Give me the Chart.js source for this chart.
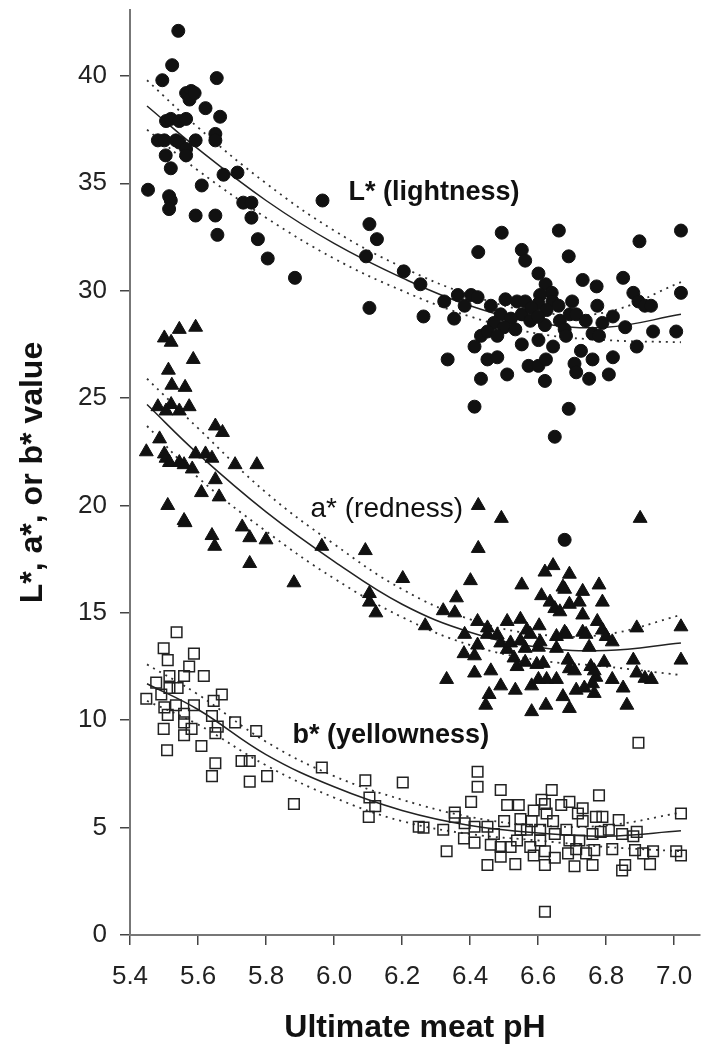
<!DOCTYPE html>
<html lang="en">
<head>
<meta charset="utf-8">
<title>Meat colour against ultimate pH</title>
<script src="https://cdn.jsdelivr.net/npm/chart.js@4.4.1/dist/chart.umd.min.js"></script>
<style>
  html, body { margin: 0; padding: 0; background: #fff; }
  #wrap { width: 709px; height: 1047px; }
</style>
</head>
<body>
<div id="wrap"><canvas id="chart" width="709" height="1047"></canvas></div>
<script>
"use strict";

const LIGHTNESS = [
  [5.542, 42.1], [5.524, 40.5], [5.495, 39.8], [5.655, 39.9], [5.565, 39.2], [5.58, 39.3],
  [5.575, 38.9], [5.59, 39.2], [5.622, 38.5], [5.665, 38.1], [5.506, 37.9], [5.52, 38.0],
  [5.545, 37.9], [5.565, 38.0], [5.482, 37.0], [5.501, 37.0], [5.535, 37.0], [5.593, 37.0],
  [5.651, 37.3], [5.651, 37.0], [5.545, 36.9], [5.565, 36.6], [5.565, 36.3], [5.505, 36.3],
  [5.52, 35.7], [5.675, 35.4], [5.716, 35.5], [5.453, 34.7], [5.515, 34.4], [5.52, 34.2],
  [5.515, 33.8], [5.611, 34.9], [5.733, 34.1], [5.757, 34.1], [5.757, 33.4], [5.593, 33.5],
  [5.651, 33.5], [5.657, 32.6], [5.776, 32.4], [5.805, 31.5], [5.885, 30.6], [5.966, 34.2],
  [6.104, 33.1], [6.126, 32.4], [6.094, 31.6], [6.205, 30.9], [6.104, 29.2],
  [6.254, 30.3], [6.263, 28.8], [6.324, 29.5], [6.353, 28.7], [6.364, 29.8], [6.403, 29.8],
  [6.422, 29.7], [6.384, 29.3], [6.424, 31.8], [6.493, 32.7], [6.461, 29.3], [6.49, 28.9],
  [6.504, 29.6], [6.538, 29.5], [6.562, 29.5], [6.552, 28.9], [6.577, 28.6], [6.552, 31.9],
  [6.562, 31.4], [6.601, 30.8], [6.622, 30.3], [6.64, 29.9], [6.606, 29.8], [6.642, 29.5],
  [6.601, 29.4], [6.625, 29.1], [6.661, 32.8], [6.69, 31.6], [6.664, 28.6], [6.693, 28.9],
  [6.712, 28.9], [6.678, 28.2], [6.731, 30.5], [6.772, 30.2], [6.774, 29.3], [6.76, 28.0],
  [6.789, 28.5], [6.82, 28.8], [6.85, 30.6], [6.88, 29.9], [6.895, 29.5], [6.914, 29.3],
  [6.932, 29.3], [6.898, 32.3], [6.856, 28.3], [6.938, 28.1], [7.006, 28.1], [7.02, 29.9],
  [7.02, 32.8], [6.47, 28.5], [6.52, 28.7], [6.58, 29.2], [6.62, 28.4], [6.66, 29.3],
  [6.7, 29.5], [6.74, 28.6], [6.5, 28.3], [6.6, 28.8],
  [6.413, 27.4], [6.432, 27.9], [6.451, 28.1], [6.48, 27.9], [6.451, 26.8], [6.48, 26.9],
  [6.334, 26.8], [6.432, 25.9], [6.413, 24.6], [6.509, 26.1], [6.533, 28.2], [6.552, 27.5],
  [6.572, 26.5], [6.601, 26.5], [6.623, 26.8], [6.601, 27.7], [6.62, 25.8], [6.644, 27.4],
  [6.649, 23.2], [6.682, 27.9], [6.69, 24.5], [6.707, 26.6], [6.712, 26.2], [6.726, 27.2],
  [6.75, 25.9], [6.779, 27.9], [6.76, 26.8], [6.808, 26.1], [6.82, 26.9], [6.89, 27.4],
  [6.678, 18.4],
];

const REDNESS = [
  [5.545, 28.2], [5.593, 28.3], [5.501, 27.8], [5.521, 27.6], [5.586, 26.8], [5.513, 26.3],
  [5.523, 25.6], [5.562, 25.5], [5.482, 24.6], [5.521, 24.7], [5.545, 24.4], [5.574, 24.6],
  [5.506, 24.4], [5.651, 23.7], [5.672, 23.4], [5.487, 23.1], [5.448, 22.5], [5.501, 22.4],
  [5.506, 22.2], [5.516, 22.0], [5.545, 22.0], [5.559, 21.9], [5.583, 21.7], [5.593, 22.4],
  [5.622, 22.4], [5.641, 22.2], [5.651, 21.2], [5.709, 21.9], [5.773, 21.9], [5.61, 20.6],
  [5.662, 20.4], [5.511, 20.0], [5.559, 19.3], [5.562, 19.2], [5.73, 19.0], [5.641, 18.6],
  [5.649, 18.1], [5.752, 18.5], [5.8, 18.4], [5.752, 17.3], [5.882, 16.4], [5.964, 18.1],
  [6.092, 17.9], [6.104, 15.9], [6.104, 15.5], [6.123, 15.0], [6.202, 16.6],
  [6.424, 20.0], [6.492, 19.4], [6.9, 19.4], [6.424, 18.0], [6.401, 16.5], [6.552, 16.3],
  [6.644, 17.2], [6.62, 16.9], [6.692, 16.8], [6.673, 16.2], [6.678, 16.1], [6.731, 16.0],
  [6.779, 16.3], [6.789, 15.5], [6.36, 15.7], [6.321, 15.1], [6.355, 15.0], [6.61, 15.8],
  [6.635, 15.5], [6.649, 15.2], [6.664, 15.05], [6.692, 15.4], [6.721, 15.5], [6.731, 14.9],
  [6.268, 14.4], [6.422, 14.6], [6.451, 14.3], [6.509, 14.6], [6.548, 14.7], [6.567, 14.2],
  [6.603, 14.4], [6.678, 14.1], [6.731, 14.1], [6.774, 14.6], [6.789, 14.2], [6.89, 14.3],
  [7.02, 14.35], [6.384, 14.0], [6.451, 14.0], [6.48, 13.97], [6.382, 13.1], [6.413, 13.0],
  [6.422, 13.5], [6.331, 11.9], [6.413, 12.2], [6.461, 12.3], [6.456, 11.2], [6.49, 11.6],
  [6.533, 11.4], [6.446, 10.7], [6.509, 13.3], [6.529, 12.9], [6.538, 12.5], [6.562, 12.7],
  [6.562, 13.35], [6.581, 10.4], [6.623, 10.7], [6.581, 11.6], [6.601, 11.9], [6.625, 11.9],
  [6.654, 11.9], [6.596, 12.6], [6.615, 12.65], [6.601, 13.4], [6.654, 13.35], [6.688, 12.8],
  [6.692, 12.4], [6.707, 12.3], [6.673, 11.1], [6.692, 10.55], [6.712, 11.4], [6.736, 11.5],
  [6.76, 11.7], [6.765, 11.25], [6.77, 12.0], [6.755, 12.5], [6.765, 12.3], [6.794, 12.7],
  [6.818, 11.9], [6.85, 11.5], [6.861, 10.7], [6.88, 12.8], [6.89, 12.2], [6.914, 11.95],
  [6.933, 11.9], [6.818, 13.65], [6.8, 13.9], [6.75, 13.4], [6.741, 14.0], [7.02, 12.8],
  [6.683, 14.0], [6.654, 13.9], [6.577, 14.0], [6.606, 13.65], [6.519, 13.6], [6.548, 13.7],
  [6.49, 13.6],
];

const YELLOWNESS = [
  [5.537, 14.1], [5.499, 13.35], [5.511, 12.8], [5.588, 13.1], [5.516, 12.06], [5.559, 12.06],
  [5.574, 12.5], [5.617, 12.06], [5.477, 11.75], [5.492, 11.2], [5.516, 11.5], [5.54, 11.5],
  [5.448, 11.0], [5.501, 10.6], [5.511, 10.25], [5.535, 10.7], [5.588, 10.7], [5.559, 10.3],
  [5.646, 10.9], [5.67, 11.2], [5.641, 10.2], [5.658, 9.7], [5.651, 9.4], [5.559, 9.9],
  [5.581, 9.6], [5.559, 9.3], [5.499, 9.6], [5.709, 9.9], [5.771, 9.5], [5.61, 8.8],
  [5.509, 8.6], [5.728, 8.1], [5.752, 8.1], [5.651, 8.0], [5.641, 7.4], [5.752, 7.14],
  [5.803, 7.4], [5.882, 6.1], [5.964, 7.8], [6.092, 7.2], [6.104, 6.4], [6.121, 6.0],
  [6.102, 5.5], [6.202, 7.1], [6.895, 8.95], [6.249, 5.04], [6.263, 5.0], [6.321, 4.9],
  [6.331, 3.9], [6.355, 5.7], [6.355, 5.5], [6.403, 6.2], [6.422, 7.6], [6.422, 6.9],
  [6.384, 5.2], [6.382, 4.5], [6.413, 4.3], [6.413, 5.04], [6.451, 5.04], [6.461, 4.2],
  [6.451, 3.26], [6.49, 6.75], [6.5, 5.3], [6.49, 4.1], [6.49, 3.65], [6.519, 4.1],
  [6.533, 3.3], [6.509, 6.05], [6.543, 6.05], [6.548, 5.4], [6.567, 4.9], [6.577, 4.1],
  [6.587, 3.7], [6.606, 4.9], [6.61, 6.3], [6.62, 6.1], [6.64, 6.75], [6.625, 5.66],
  [6.606, 4.4], [6.62, 3.9], [6.62, 3.26], [6.62, 1.08], [6.649, 4.7], [6.644, 5.3],
  [6.649, 3.6], [6.668, 6.05], [6.692, 6.2], [6.683, 4.9], [6.692, 4.4], [6.688, 3.8],
  [6.707, 3.2], [6.712, 4.0], [6.717, 5.66], [6.731, 5.9], [6.731, 5.3], [6.76, 4.7],
  [6.765, 3.95], [6.76, 3.26], [6.779, 6.5], [6.77, 5.5], [6.789, 5.5], [6.784, 4.8],
  [6.808, 4.9], [6.818, 4.0], [6.847, 3.0], [6.856, 3.26], [6.89, 4.8], [6.88, 4.6],
  [6.885, 3.95], [6.909, 3.8], [6.938, 3.9], [6.929, 3.3], [7.006, 3.9], [7.02, 3.7],
  [7.02, 5.66], [6.581, 5.3], [6.587, 5.8], [6.548, 4.9], [6.538, 4.4], [6.47, 4.7],
  [6.721, 4.4], [6.741, 3.8], [6.847, 4.7], [6.837, 5.35],
];

// Fitted curves and their dotted bands, read at these pH values.
const FIT_PH = [5.45, 5.6, 5.8, 6.0, 6.2, 6.4, 6.6, 6.8, 7.02];
const LIGHTNESS_FIT = [38.6, 36.6, 34.2, 32.2, 30.6, 29.3, 28.5, 28.3, 28.9];
const LIGHTNESS_UPPER = [39.8, 37.6, 35.0, 32.8, 31.1, 29.8, 29.0, 29.0, 30.4];
const LIGHTNESS_LOWER = [37.5, 35.6, 33.4, 31.5, 30.0, 28.8, 28.0, 27.7, 27.6];
const REDNESS_FIT = [24.7, 22.4, 19.7, 17.4, 15.4, 14.1, 13.4, 13.25, 13.6];
const REDNESS_UPPER = [25.9, 23.6, 20.6, 18.2, 16.1, 14.7, 14.0, 14.0, 14.9];
const REDNESS_LOWER = [23.7, 21.3, 18.8, 16.6, 14.8, 13.5, 12.8, 12.5, 12.1];
const YELLOWNESS_FIT = [11.7, 10.5, 8.4, 6.9, 5.8, 5.1, 4.75, 4.6, 4.85];
const YELLOWNESS_UPPER = [12.6, 11.2, 9.0, 7.4, 6.3, 5.5, 5.1, 5.1, 5.7];
const YELLOWNESS_LOWER = [10.9, 9.8, 7.9, 6.4, 5.3, 4.7, 4.4, 4.1, 3.9];

// Series labels placed inside the plot, anchored at [pH, value].
const SERIES_LABELS = ["L* (lightness)", "a* (redness)", "b* (yellowness)"];
const LABEL_ANCHORS = [[6.294, 34.55], [6.155, 19.84], [6.167, 9.27]];

const FONT = "'Liberation Sans', Arial, Helvetica, sans-serif";
const INK = "#111";

const toPoints = (pairs) => pairs.map(([x, y]) => ({ x, y }));
const curve = (values) => FIT_PH.map((x, i) => ({ x, y: values[i] }));

/** One scatter series of markers. */
function markers(label, pairs, pointStyle, radius, hollow) {
  return {
    type: "scatter",
    label,
    data: toPoints(pairs),
    pointStyle,
    pointRadius: radius,
    backgroundColor: hollow ? "rgba(0,0,0,0)" : INK,
    borderColor: hollow ? "#222" : INK,
    borderWidth: hollow ? 1.5 : 1,
    order: 1,
  };
}

/** A fitted curve (solid) or a band edge (dotted). */
function curveLine(label, values, dotted) {
  return {
    type: "line",
    label,
    data: curve(values),
    borderColor: dotted ? "#333" : "#222",
    borderWidth: dotted ? 1.8 : 1.5,
    borderDash: dotted ? [2, 5] : [],
    pointRadius: 0,
    tension: 0.4,
    fill: false,
    order: 2,
  };
}

// Draws the series names next to their clouds of points.
const seriesLabelPlugin = {
  id: "seriesLabels",
  afterDatasetsDraw(chart) {
    const { ctx, scales } = chart;
    ctx.save();
    ctx.fillStyle = INK;
    ctx.textAlign = "center";
    ctx.textBaseline = "middle";
    SERIES_LABELS.forEach((text, i) => {
      const [ph, value] = LABEL_ANCHORS[i];
      ctx.font = (i === 1 ? "normal 28px " : "bold 27px ") + FONT;
      ctx.fillText(text, scales.x.getPixelForValue(ph), scales.y.getPixelForValue(value));
    });
    ctx.restore();
  },
};

const tickFont = { family: FONT, size: 26 };
const titleFont = { family: FONT, size: 32, weight: "bold" };
const axisGrid = { drawOnChartArea: false, drawTicks: true, tickLength: 10, color: "#444", lineWidth: 1.5 };
const axisBorder = { color: "#777", width: 2 };

new Chart(document.getElementById("chart"), {
  type: "scatter",
  data: {
    datasets: [
      curveLine("L* fit", LIGHTNESS_FIT, false),
      curveLine("L* upper", LIGHTNESS_UPPER, true),
      curveLine("L* lower", LIGHTNESS_LOWER, true),
      curveLine("a* fit", REDNESS_FIT, false),
      curveLine("a* upper", REDNESS_UPPER, true),
      curveLine("a* lower", REDNESS_LOWER, true),
      curveLine("b* fit", YELLOWNESS_FIT, false),
      curveLine("b* upper", YELLOWNESS_UPPER, true),
      curveLine("b* lower", YELLOWNESS_LOWER, true),
      markers("L* (lightness)", LIGHTNESS, "circle", 6.5, false),
      markers("a* (redness)", REDNESS, "triangle", 8, false),
      markers("b* (yellowness)", YELLOWNESS, "rect", 7.5, true),
    ],
  },
  options: {
    responsive: false,
    animation: false,
    devicePixelRatio: 1,
    layout: { padding: { top: 10, right: 0, bottom: 0, left: 0 } },
    plugins: { legend: { display: false }, tooltip: { enabled: false } },
    scales: {
      x: {
        type: "linear",
        min: 5.4,
        max: 7.076,
        ticks: {
          stepSize: 0.2,
          includeBounds: false,
          autoSkip: false,
          maxRotation: 0,
          padding: 16,
          color: "#222",
          font: tickFont,
          callback: (v) => v.toFixed(1),
        },
        grid: axisGrid,
        border: axisBorder,
        title: { display: true, text: "Ultimate meat pH", color: INK, font: titleFont, padding: { top: 0, bottom: 0 } },
        afterFit(scale) {
          scale.height = 112;
          scale.paddingLeft = 0;
          scale.paddingRight = 0;
        },
      },
      y: {
        type: "linear",
        min: 0,
        max: 43.07,
        ticks: {
          stepSize: 5,
          includeBounds: false,
          padding: 13,
          color: "#222",
          font: tickFont,
        },
        grid: axisGrid,
        border: axisBorder,
        title: { display: true, text: "L*, a*, or b* value", color: INK, font: titleFont, padding: { top: 14, bottom: 0 } },
        afterFit(scale) {
          scale.width = 130;
          scale.paddingTop = 0;
          scale.paddingBottom = 0;
        },
      },
    },
  },
  plugins: [seriesLabelPlugin],
});
</script>
</body>
</html>
